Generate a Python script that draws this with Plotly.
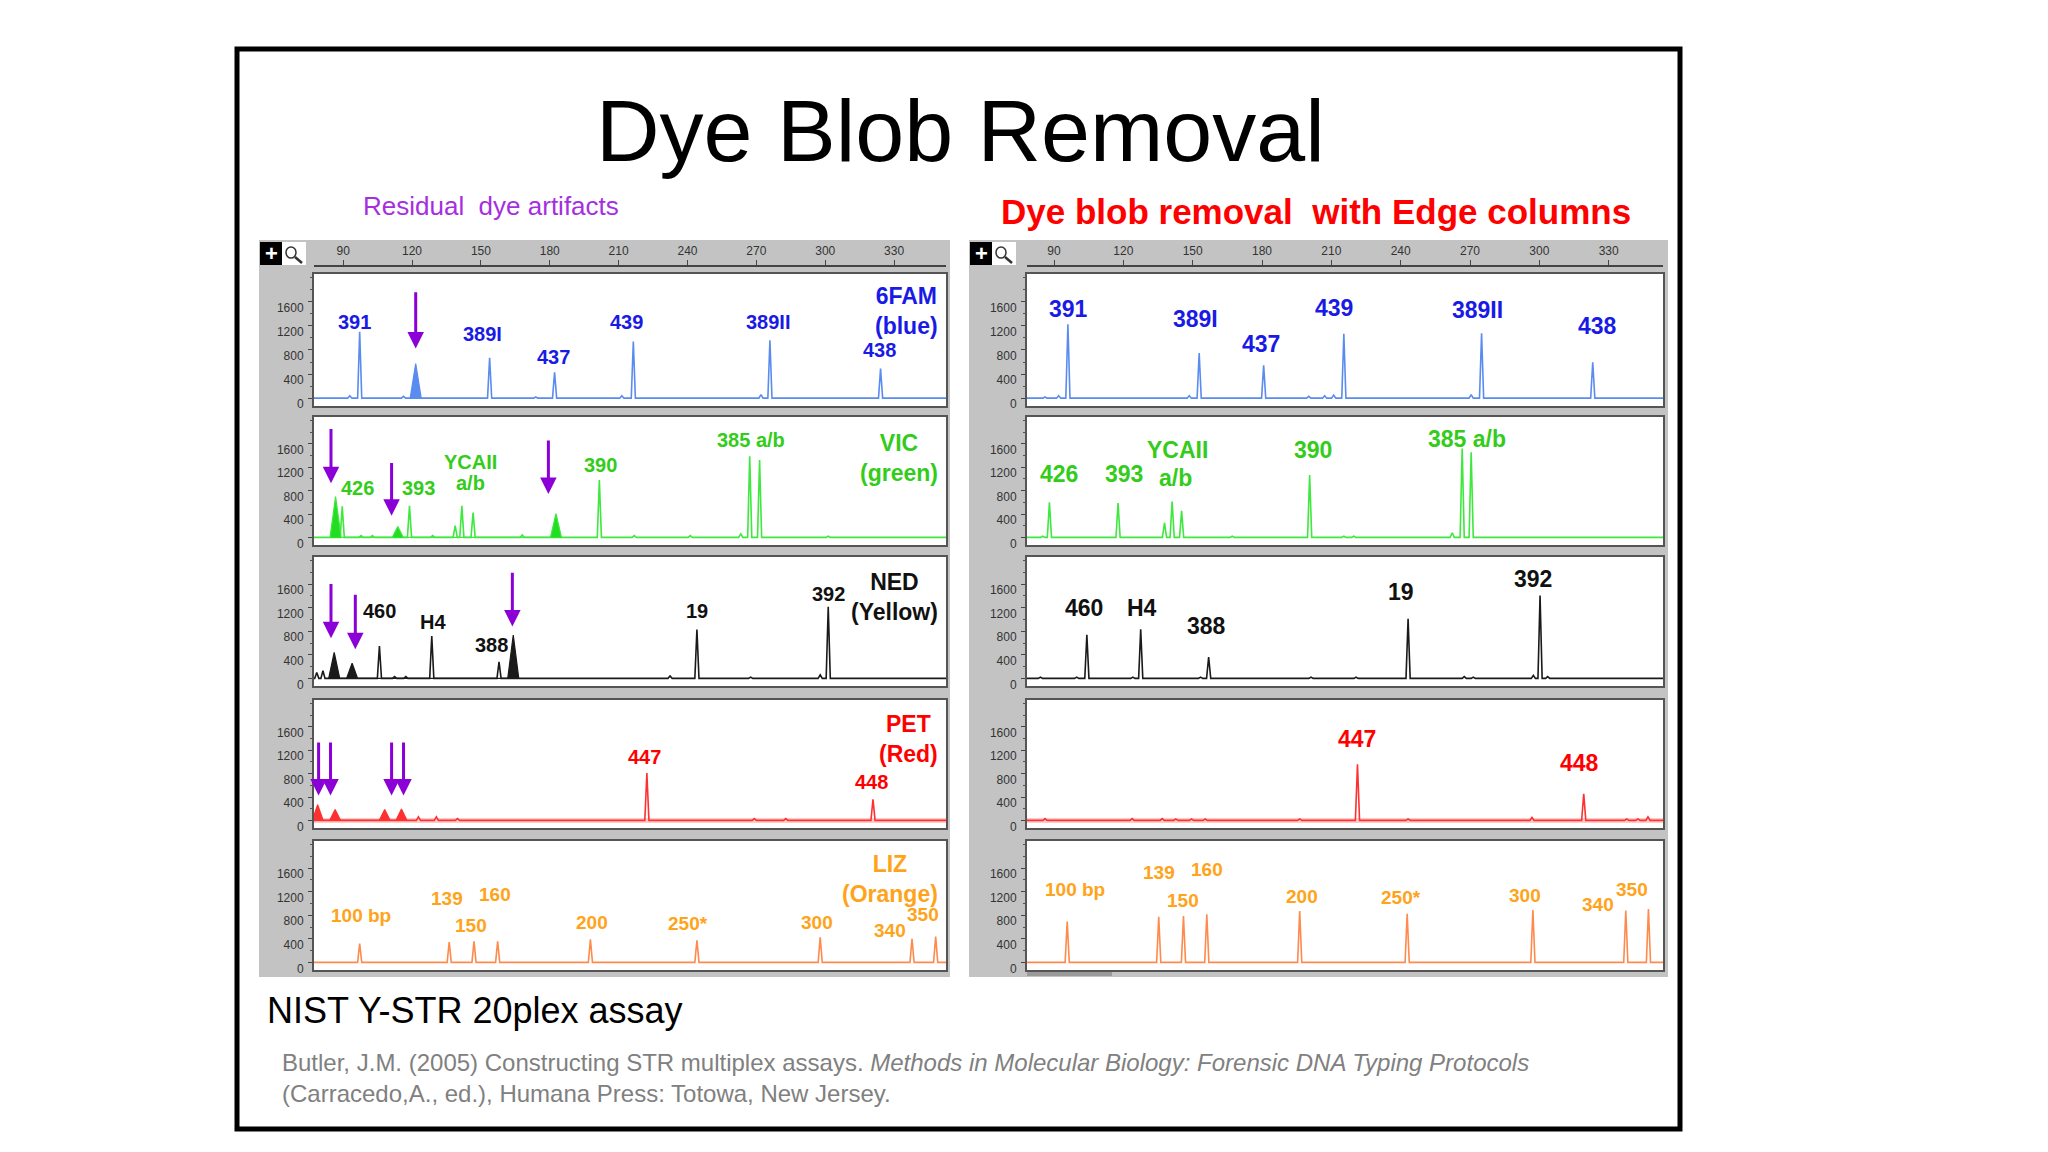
import plotly.graph_objects as go

W, H = 2048, 1152
PAGE_OFF = 8  # default body margin of the html page
FIG_W, FIG_H = W - 2 * PAGE_OFF, H - 2 * PAGE_OFF
FONT = "Liberation Sans, Arial, sans-serif"

# ---------------- data ----------------
BP_TICKS = [90, 120, 150, 180, 210, 240, 270, 300, 330]
RFU_TICKS = [0, 400, 800, 1200, 1600]
RFU_TICK_TEXT = ["0", "400", "800", "1200", "1600"]
BP_RANGE_LEFT = [77.3, 352.6]
BP_RANGE_RIGHT = [78.3, 353.5]
RFU_RANGE = [-130, 2060]

DYE_NAMES = ["6FAM<br>(blue)", "VIC<br>(green)", "NED<br>(Yellow)", "PET<br>(Red)", "LIZ<br>(Orange)"]
DYE_NAME_RFU = [1450, 1365, 1389, 1394, 1407]

# ---- left panel: residual dye artifacts ----
FAM_L_PEAK_BP = [92.9, 97.2, 116.3, 153.8, 173.9, 182.1, 211.4, 216.4, 272.0, 275.9, 324.1]
FAM_L_PEAK_RFU = [40, 1100, 30, 670, 20, 430, 40, 940, 60, 960, 490]
FAM_L_BLOB_BP = [121.6]
FAM_L_BLOB_RFU = [575]
FAM_L_LABELS = ["391", "389I", "437", "439", "389II", "438"]
FAM_L_LABEL_BP = [94.9, 150.5, 181.7, 213.5, 275.0, 323.5]
FAM_L_LABEL_RFU = [1260, 1058, 685, 1260, 1260, 795]
FAM_L_ARROW_BP = [121.6]
FAM_L_ARROW_TAIL = [1781]
FAM_L_ARROW_TIP = [822]

VIC_L_PEAK_BP = [89.6, 97.8, 102.7, 118.9, 129.0, 138.8, 141.7, 146.6, 168.0, 201.6, 216.8, 241.2, 263.2, 267.1, 271.4, 301.3]
VIC_L_PEAK_RFU = [530, 30, 30, 540, 30, 200, 540, 424, 40, 980, 30, 30, 60, 1390, 1325, 20]
VIC_L_BLOB_BP = [86.7, 113.8, 182.7]
VIC_L_BLOB_RFU = [700, 185, 408]
VIC_L_LABELS = ["426", "393", "YCAII", "a/b", "390", "385 a/b"]
VIC_L_LABEL_BP = [96.2, 122.8, 145.6, 145.6, 202.2, 267.5]
VIC_L_LABEL_RFU = [837, 837, 1283, 928, 1246, 1670]
VIC_L_ARROW_BP = [84.7, 111.1, 179.4]
VIC_L_ARROW_TAIL = [1882, 1299, 1685]
VIC_L_ARROW_TIP = [928, 371, 742]

NED_L_PEAK_BP = [78.5, 81.2, 105.8, 112.4, 117.3, 128.6, 157.9, 232.4, 244.1, 267.5, 297.8, 301.3]
NED_L_PEAK_RFU = [100, 130, 550, 30, 30, 720, 280, 40, 830, 20, 60, 1216]
NED_L_BLOB_BP = [86.1, 93.9, 164.1]
NED_L_BLOB_RFU = [440, 256, 736]
NED_L_LABELS = ["460", "H4", "388", "19", "392"]
NED_L_LABEL_BP = [106.0, 129.0, 154.4, 244.1, 301.3]
NED_L_LABEL_RFU = [1146, 965, 560, 1146, 1428]
NED_L_ARROW_BP = [84.7, 95.3, 163.7]
NED_L_ARROW_TAIL = [1626, 1444, 1818]
NED_L_ARROW_TIP = [682, 496, 880]

PET_L_PEAK_BP = [122.8, 130.6, 139.8, 222.3, 269.1, 282.8, 320.8]
PET_L_PEAK_RFU = [60, 60, 30, 810, 30, 30, 362]
PET_L_BLOB_BP = [78.9, 86.5, 108.1, 115.4]
PET_L_BLOB_RFU = [267, 187, 187, 197]
PET_L_LABELS = ["447", "448"]
PET_L_LABEL_BP = [221.3, 320.2]
PET_L_LABEL_RFU = [1093, 650]
PET_L_ARROW_BP = [79.3, 84.5, 111.1, 116.3]
PET_L_ARROW_TAIL = [1359, 1359, 1359, 1359]
PET_L_ARROW_TIP = [426, 426, 426, 426]

LIZ_L_PEAK_BP = [97.2, 136.2, 147.0, 157.3, 197.7, 244.1, 297.8, 337.8, 348.1]
LIZ_L_PEAK_RFU = [320, 346, 357, 357, 389, 373, 426, 400, 437]
LIZ_L_BLOB_BP = []
LIZ_L_BLOB_RFU = []
LIZ_L_LABELS = ["100 bp", "139", "160", "150", "200", "250*", "300", "340", "350"]
LIZ_L_LABEL_BP = [97.8, 135.3, 156.3, 145.6, 198.3, 240.2, 296.4, 328.0, 342.7]
LIZ_L_LABEL_RFU = [800, 1082, 1146, 624, 677, 656, 677, 549, 816]

# ---- right panel: dye blob removal with Edge columns ----
FAM_R_PEAK_BP = [86.1, 92.0, 96.0, 148.5, 152.8, 180.7, 200.2, 207.1, 211.0, 215.4, 270.5, 275.0, 323.1]
FAM_R_PEAK_RFU = [20, 40, 1227, 40, 747, 544, 30, 40, 50, 1067, 60, 1077, 597]
FAM_R_LABELS = ["391", "389I", "437", "439", "389II", "438"]
FAM_R_LABEL_BP = [96.4, 151.1, 179.7, 211.0, 273.4, 325.1]
FAM_R_LABEL_RFU = [1477, 1306, 906, 1493, 1466, 1200]

VIC_R_PEAK_BP = [85.1, 88.0, 117.7, 137.8, 141.1, 145.2, 167.1, 200.6, 215.4, 219.7, 262.3, 266.6, 270.5]
VIC_R_PEAK_RFU = [20, 602, 586, 250, 613, 453, 20, 1066, 20, 20, 80, 1519, 1455]
VIC_R_LABELS = ["426", "393", "YCAII", "a/b", "390", "385 a/b"]
VIC_R_LABEL_BP = [92.0, 120.2, 143.3, 142.7, 202.2, 268.5]
VIC_R_LABEL_RFU = [1093, 1093, 1492, 1013, 1492, 1679]

NED_R_PEAK_BP = [84.1, 99.8, 104.2, 124.1, 127.5, 153.4, 156.9, 201.2, 220.7, 243.2, 267.5, 271.4, 297.4, 300.3, 303.6]
NED_R_PEAK_RFU = [20, 20, 740, 20, 832, 20, 362, 20, 20, 1010, 30, 20, 50, 1404, 30]
NED_R_LABELS = ["460", "H4", "388", "19", "392"]
NED_R_LABEL_BP = [103.1, 128.0, 155.9, 240.2, 297.4]
NED_R_LABEL_RFU = [1199, 1199, 886, 1458, 1685]

PET_R_PEAK_BP = [86.1, 123.8, 136.8, 142.7, 149.5, 155.4, 196.3, 221.3, 243.2, 296.8, 319.2, 337.8, 342.7, 347.0]
PET_R_PEAK_RFU = [30, 30, 30, 25, 25, 25, 25, 960, 25, 50, 453, 25, 25, 60]
PET_R_LABELS = ["447", "448"]
PET_R_LABEL_BP = [221.3, 317.3]
PET_R_LABEL_RFU = [1397, 986]

LIZ_R_PEAK_BP = [95.7, 135.3, 146.0, 156.1, 196.3, 242.8, 297.2, 337.4, 347.2]
LIZ_R_PEAK_RFU = [693, 773, 784, 816, 869, 826, 890, 880, 906]
LIZ_R_LABELS = ["100 bp", "139", "160", "150", "200", "250*", "300", "340", "350"]
LIZ_R_LABEL_BP = [99.2, 135.5, 156.4, 146.0, 197.3, 240.2, 293.9, 325.5, 340.3]
LIZ_R_LABEL_RFU = [1242, 1530, 1583, 1050, 1119, 1109, 1135, 986, 1242]

# ---------------- styles ----------------
LINE_COLORS = ["#5a8cf0", "#3ee83e", "#1a1a1a", "#ff3030", "#ff8a4d"]
TEXT_COLORS = ["#1a1ae6", "#33cc1a", "#111111", "#ff0000", "#ffa31a"]
PURPLE = "#8b00d6"
PANEL_GRAY = "#c3c3c3"
PEAK_HW = 0.9
BLOB_HW = 2.4

LEFT_X = (314, 946)
RIGHT_X = (1027, 1663)
ROWS_Y = [(274, 406), (417, 545), (557, 686), (700, 828), (841, 970)]


def pxx(p):
    return (p - PAGE_OFF) / FIG_W


def pxy(p):
    return 1 - (p - PAGE_OFF) / FIG_H


def spike_xy(bps, rfus, xr, hw):
    xs, ys = [xr[0]], [0]
    for p, h in sorted(zip(bps, rfus)):
        xs += [p - hw, p, p + hw]
        ys += [0, h, 0]
    xs.append(xr[1])
    ys.append(0)
    return xs, ys


def blob_xy(bps, rfus, hw):
    xs, ys = [], []
    for p, h in sorted(zip(bps, rfus)):
        xs += [p - hw, p, p + hw]
        ys += [0, h, 0]
    return xs, ys


LEFT = [
    (FAM_L_PEAK_BP, FAM_L_PEAK_RFU, FAM_L_BLOB_BP, FAM_L_BLOB_RFU, FAM_L_LABELS, FAM_L_LABEL_BP, FAM_L_LABEL_RFU,
     FAM_L_ARROW_BP, FAM_L_ARROW_TAIL, FAM_L_ARROW_TIP),
    (VIC_L_PEAK_BP, VIC_L_PEAK_RFU, VIC_L_BLOB_BP, VIC_L_BLOB_RFU, VIC_L_LABELS, VIC_L_LABEL_BP, VIC_L_LABEL_RFU,
     VIC_L_ARROW_BP, VIC_L_ARROW_TAIL, VIC_L_ARROW_TIP),
    (NED_L_PEAK_BP, NED_L_PEAK_RFU, NED_L_BLOB_BP, NED_L_BLOB_RFU, NED_L_LABELS, NED_L_LABEL_BP, NED_L_LABEL_RFU,
     NED_L_ARROW_BP, NED_L_ARROW_TAIL, NED_L_ARROW_TIP),
    (PET_L_PEAK_BP, PET_L_PEAK_RFU, PET_L_BLOB_BP, PET_L_BLOB_RFU, PET_L_LABELS, PET_L_LABEL_BP, PET_L_LABEL_RFU,
     PET_L_ARROW_BP, PET_L_ARROW_TAIL, PET_L_ARROW_TIP),
    (LIZ_L_PEAK_BP, LIZ_L_PEAK_RFU, LIZ_L_BLOB_BP, LIZ_L_BLOB_RFU, LIZ_L_LABELS, LIZ_L_LABEL_BP, LIZ_L_LABEL_RFU,
     [], [], []),
]
RIGHT = [
    (FAM_R_PEAK_BP, FAM_R_PEAK_RFU, [], [], FAM_R_LABELS, FAM_R_LABEL_BP, FAM_R_LABEL_RFU, [], [], []),
    (VIC_R_PEAK_BP, VIC_R_PEAK_RFU, [], [], VIC_R_LABELS, VIC_R_LABEL_BP, VIC_R_LABEL_RFU, [], [], []),
    (NED_R_PEAK_BP, NED_R_PEAK_RFU, [], [], NED_R_LABELS, NED_R_LABEL_BP, NED_R_LABEL_RFU, [], [], []),
    (PET_R_PEAK_BP, PET_R_PEAK_RFU, [], [], PET_R_LABELS, PET_R_LABEL_BP, PET_R_LABEL_RFU, [], [], []),
    (LIZ_R_PEAK_BP, LIZ_R_PEAK_RFU, [], [], LIZ_R_LABELS, LIZ_R_LABEL_BP, LIZ_R_LABEL_RFU, [], [], []),
]

fig = go.Figure()
layout = dict(
    width=FIG_W, height=FIG_H, margin=dict(l=0, r=0, t=0, b=0),
    paper_bgcolor="white", plot_bgcolor="white", showlegend=False,
    template="none", font=dict(family=FONT),
)
shapes = []
annotations = []


def paper_text(x, y, text, size, color, xanchor="center", align="center"):
    return dict(x=pxx(x), y=pxy(y), xref="paper", yref="paper", xanchor=xanchor, yanchor="middle",
                align=align, text=text, showarrow=False, font=dict(size=size, color=color, family=FONT))


# slide border
shapes.append(dict(type="rect", xref="paper", yref="paper", x0=pxx(237), x1=pxx(1680), y0=pxy(1129), y1=pxy(49),
                   line=dict(color="black", width=5), fillcolor="rgba(0,0,0,0)", layer="below"))
# gray panels
for gx0, gx1 in [(259, 950), (969, 1668)]:
    shapes.append(dict(type="rect", xref="paper", yref="paper", x0=pxx(gx0), x1=pxx(gx1), y0=pxy(977), y1=pxy(240),
                       line=dict(width=0), fillcolor=PANEL_GRAY, layer="below"))
# scrollbar strip at bottom of right panel
shapes.append(dict(type="rect", xref="paper", yref="paper", x0=pxx(1027), x1=pxx(1112), y0=pxy(976), y1=pxy(972),
                   line=dict(width=0), fillcolor="#9a9a9a", layer="below"))

for pi, (panel, xdom_px, xr, label_size) in enumerate([(LEFT, LEFT_X, BP_RANGE_LEFT, 20),
                                                      (RIGHT, RIGHT_X, BP_RANGE_RIGHT, 23)]):
    for r in range(5):
        idx = pi * 5 + r + 1
        xa = "x" if idx == 1 else f"x{idx}"
        ya = "y" if idx == 1 else f"y{idx}"
        xkey = "xaxis" if idx == 1 else f"xaxis{idx}"
        ykey = "yaxis" if idx == 1 else f"yaxis{idx}"
        y0p, y1p = ROWS_Y[r]
        shapes.append(dict(type="rect", xref="paper", yref="paper", x0=pxx(xdom_px[0]), x1=pxx(xdom_px[1]),
                           y0=pxy(y1p), y1=pxy(y0p), line=dict(width=0), fillcolor="white", layer="below"))
        layout[xkey] = dict(domain=[pxx(xdom_px[0]), pxx(xdom_px[1])], range=xr, anchor=ya,
                            showticklabels=False, ticks="", showgrid=False, zeroline=False,
                            showline=True, mirror=True, linecolor="#555555", linewidth=2, fixedrange=True)
        layout[ykey] = dict(domain=[pxy(y1p), pxy(y0p)], range=RFU_RANGE, anchor=xa,
                            tickvals=RFU_TICKS, ticktext=RFU_TICK_TEXT, ticks="outside", ticklen=4,
                            tickcolor="#444444", tickwidth=1, ticklabelshift=6, ticklabelstandoff=2,
                            tickfont=dict(size=12, color="#333333", family=FONT),
                            minor=dict(dtick=200, tick0=0, ticks="outside", ticklen=2, tickcolor="#555555"),
                            showgrid=False, zeroline=False, showline=True, mirror=True,
                            linecolor="#555555", linewidth=2, fixedrange=True)

        (pk_bp, pk_rfu, bl_bp, bl_rfu, labs, lab_bp, lab_rfu, ar_bp, ar_tail, ar_tip) = panel[r]
        if r == 3:
            fig.add_trace(go.Scatter(x=xr, y=[0, 0], xaxis=xa, yaxis=ya, mode="lines",
                                     line=dict(color="rgba(255,110,110,0.35)", width=5), hoverinfo="skip"))
        sx, sy = spike_xy(pk_bp, pk_rfu, xr, PEAK_HW)
        fig.add_trace(go.Scatter(x=sx, y=sy, xaxis=xa, yaxis=ya, mode="lines",
                                 line=dict(color=LINE_COLORS[r], width=1.6), hoverinfo="skip"))
        if bl_bp:
            bx, by = blob_xy(bl_bp, bl_rfu, BLOB_HW)
            fig.add_trace(go.Scatter(x=bx, y=by, xaxis=xa, yaxis=ya, mode="lines", fill="tozeroy",
                                     fillcolor=LINE_COLORS[r] if r != 1 else "#22dd22",
                                     line=dict(color=LINE_COLORS[r], width=1.2), hoverinfo="skip"))
        size = 19 if r == 4 else label_size
        for t, lx, ly in zip(labs, lab_bp, lab_rfu):
            annotations.append(dict(x=lx, y=ly, xref=xa, yref=ya, xanchor="center", yanchor="middle",
                                    text=f"<b>{t}</b>", showarrow=False,
                                    font=dict(size=size, color=TEXT_COLORS[r], family=FONT)))
        for abp, at, ah in zip(ar_bp, ar_tail, ar_tip):
            annotations.append(dict(x=abp, y=ah, ax=abp, ay=at, xref=xa, yref=ya, axref=xa, ayref=ya,
                                    text="", showarrow=True, arrowhead=2, arrowsize=1.1, arrowwidth=3,
                                    arrowcolor=PURPLE, standoff=0))
        if pi == 0:
            annotations.append(dict(x=xr[1] - 2.8, y=DYE_NAME_RFU[r], xref=xa, yref=ya, xanchor="right",
                                    yanchor="middle", align="center", text=f"<b>{DYE_NAMES[r]}</b>",
                                    showarrow=False, font=dict(size=23, color=TEXT_COLORS[r], family=FONT)))

    # ruler axis on top of each panel
    ridx = 11 + pi
    layout[f"xaxis{ridx}"] = dict(domain=[pxx(xdom_px[0]), pxx(xdom_px[1])], range=xr, anchor=f"y{ridx}",
                                  side="top", tickvals=BP_TICKS, ticks="outside", ticklen=5, tickcolor="#444444",
                                  tickfont=dict(size=12, color="#333333", family=FONT), showgrid=False,
                                  zeroline=False, showline=True, linecolor="#444444", linewidth=1.5,
                                  fixedrange=True)
    layout[f"yaxis{ridx}"] = dict(domain=[pxy(268), pxy(267)], range=[0, 1], anchor=f"x{ridx}", visible=False,
                                  fixedrange=True)
    fig.add_trace(go.Scatter(x=xr, y=[0, 0], xaxis=f"x{ridx}", yaxis=f"y{ridx}", mode="lines",
                             line=dict(width=0, color="rgba(0,0,0,0)"), hoverinfo="skip"))

    # toolbar icons
    ix = 260 if pi == 0 else 970
    shapes.append(dict(type="rect", xref="paper", yref="paper", x0=pxx(ix), x1=pxx(ix + 22), y0=pxy(265),
                       y1=pxy(242), fillcolor="black", line=dict(width=0), layer="below"))
    shapes.append(dict(type="rect", xref="paper", yref="paper", x0=pxx(ix + 22), x1=pxx(ix + 46), y0=pxy(265),
                       y1=pxy(242), fillcolor="white", line=dict(width=0), layer="below"))
    shapes.append(dict(type="circle", xref="paper", yref="paper", x0=pxx(ix + 26), x1=pxx(ix + 36), y0=pxy(258),
                       y1=pxy(247), fillcolor="white", line=dict(width=1.5, color="#333333"), layer="below"))
    shapes.append(dict(type="line", xref="paper", yref="paper", x0=pxx(ix + 35), x1=pxx(ix + 42), y0=pxy(257),
                       y1=pxy(263), line=dict(width=2.5, color="#333333"), layer="below"))
    annotations.append(paper_text(ix + 11, 253.5, "<b>+</b>", 22, "white"))

# texts
annotations += [
    paper_text(960, 130, "Dye Blob Removal", 88, "black"),
    paper_text(491, 206, "Residual\u00a0 dye artifacts", 26, "#a52fe0"),
    paper_text(1316, 212, "<b>Dye blob removal\u00a0 with Edge columns</b>", 35, "#ff0000"),
    paper_text(265, 1010, "NIST Y-STR 20plex assay", 36, "black", xanchor="left"),
    paper_text(280, 1078,
               "Butler, J.M. (2005) Constructing STR multiplex assays. <i>Methods in Molecular Biology: Forensic DNA "
               "Typing Protocols</i><br>(Carracedo,A., ed.), Humana Press: Totowa, New Jersey.",
               24, "#808080", xanchor="left", align="left"),
]

layout["shapes"] = shapes
layout["annotations"] = annotations
fig.update_layout(**layout)
fig.write_html("out.html")
